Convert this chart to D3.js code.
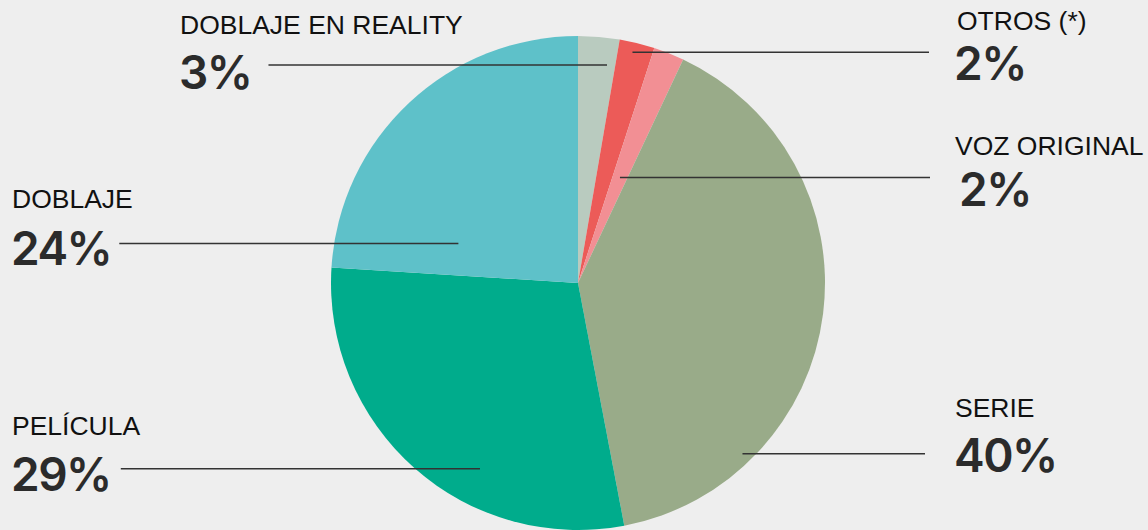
<!DOCTYPE html>
<html>
<head>
<meta charset="utf-8">
<script src="https://cdn.jsdelivr.net/npm/d3@7"></script>
<style>
  html, body { margin: 0; padding: 0; background: #eeeeee; }
  svg { display: block; }
  .cat { font-family: "Liberation Sans", Arial, sans-serif; font-size: 26.5px; fill: #111; }
  .pct { font-family: Inter, "Liberation Sans", sans-serif; font-size: 46px; font-weight: 600; letter-spacing: -1.5px; fill: #2b2b2b; }
</style>
</head>
<body>
<div id="chart"></div>
<script>
// data, clockwise from 12 o'clock
var categories = ["DOBLAJE EN REALITY", "OTROS (*)", "VOZ ORIGINAL", "SERIE", "PELÍCULA", "DOBLAJE"];
var values = [2.7, 2.3, 2.0, 40, 29, 24];
var pctLabels = ["3%", "2%", "2%", "40%", "29%", "24%"];
var colors = ["#b9cbbf", "#ec5b58", "#f28f94", "#99ab89", "#00ac8c", "#5ec1c9"];

// label layout: text position, where the leader line touches the slice
// (t = fraction across the slice angle, r = fraction of radius)
var layout = [
  { side: "left",  x: 180, y: 34,  pctX: 179, pctY: 89,  t: 0.78, r: 0.89, gap: 17 },
  { side: "right", x: 957, y: 30,  pctX: 954, pctY: 80,  t: 0.43, r: 0.96, gap: 28 },
  { side: "right", x: 955, y: 155, pctX: 959, pctY: 206, t: 0.51, r: 0.46, gap: 25 },
  { side: "right", x: 955, y: 417, pctX: 954, pctY: 472, t: 0.77, r: 0.96, gap: 30 },
  { side: "left",  x: 12,  y: 435, pctX: 11,  pctY: 491, t: 0.37, r: 0.85, gap: 10 },
  { side: "left",  x: 12,  y: 208, pctX: 11,  pctY: 265, t: 0.17, r: 0.51, gap: 8 }
];

var w = 1148, h = 530;
var cx = 578, cy = 283, radius = 247;

var svg = d3.select("#chart")
  .append("svg")
  .attr("width", w)
  .attr("height", h);

svg.append("rect")
  .attr("width", w)
  .attr("height", h)
  .attr("fill", "#eeeeee");

var pie = d3.pie().sort(null).value(d => d)(values);

var arc = d3.arc().innerRadius(0).outerRadius(radius);

var g = svg.append("g")
  .attr("transform", "translate(" + cx + "," + cy + ")");

g.selectAll("path")
  .data(pie)
  .enter()
  .append("path")
  .attr("d", arc)
  .attr("fill", (d, i) => colors[i]);

// labels
pie.forEach(function(d, i) {
  var L = layout[i];
  var a = d.startAngle + (d.endAngle - d.startAngle) * L.t;
  var px = cx + Math.sin(a) * radius * L.r;
  var py = cy - Math.cos(a) * radius * L.r;

  svg.append("text")
    .attr("class", "cat")
    .attr("x", L.x)
    .attr("y", L.y)
    .text(categories[i]);

  var pct = svg.append("text")
    .attr("class", "pct")
    .attr("x", L.pctX)
    .attr("y", L.pctY)
    .text(pctLabels[i]);

  var x1;
  if (L.side == "left") {
    x1 = L.pctX + pct.node().getComputedTextLength() + L.gap;
  } else {
    x1 = L.x - L.gap;
  }

  svg.append("line")
    .attr("x1", x1)
    .attr("y1", py)
    .attr("x2", px)
    .attr("y2", py)
    .attr("stroke", "#333")
    .attr("stroke-width", 1.5);
});
</script>
</body>
</html>
